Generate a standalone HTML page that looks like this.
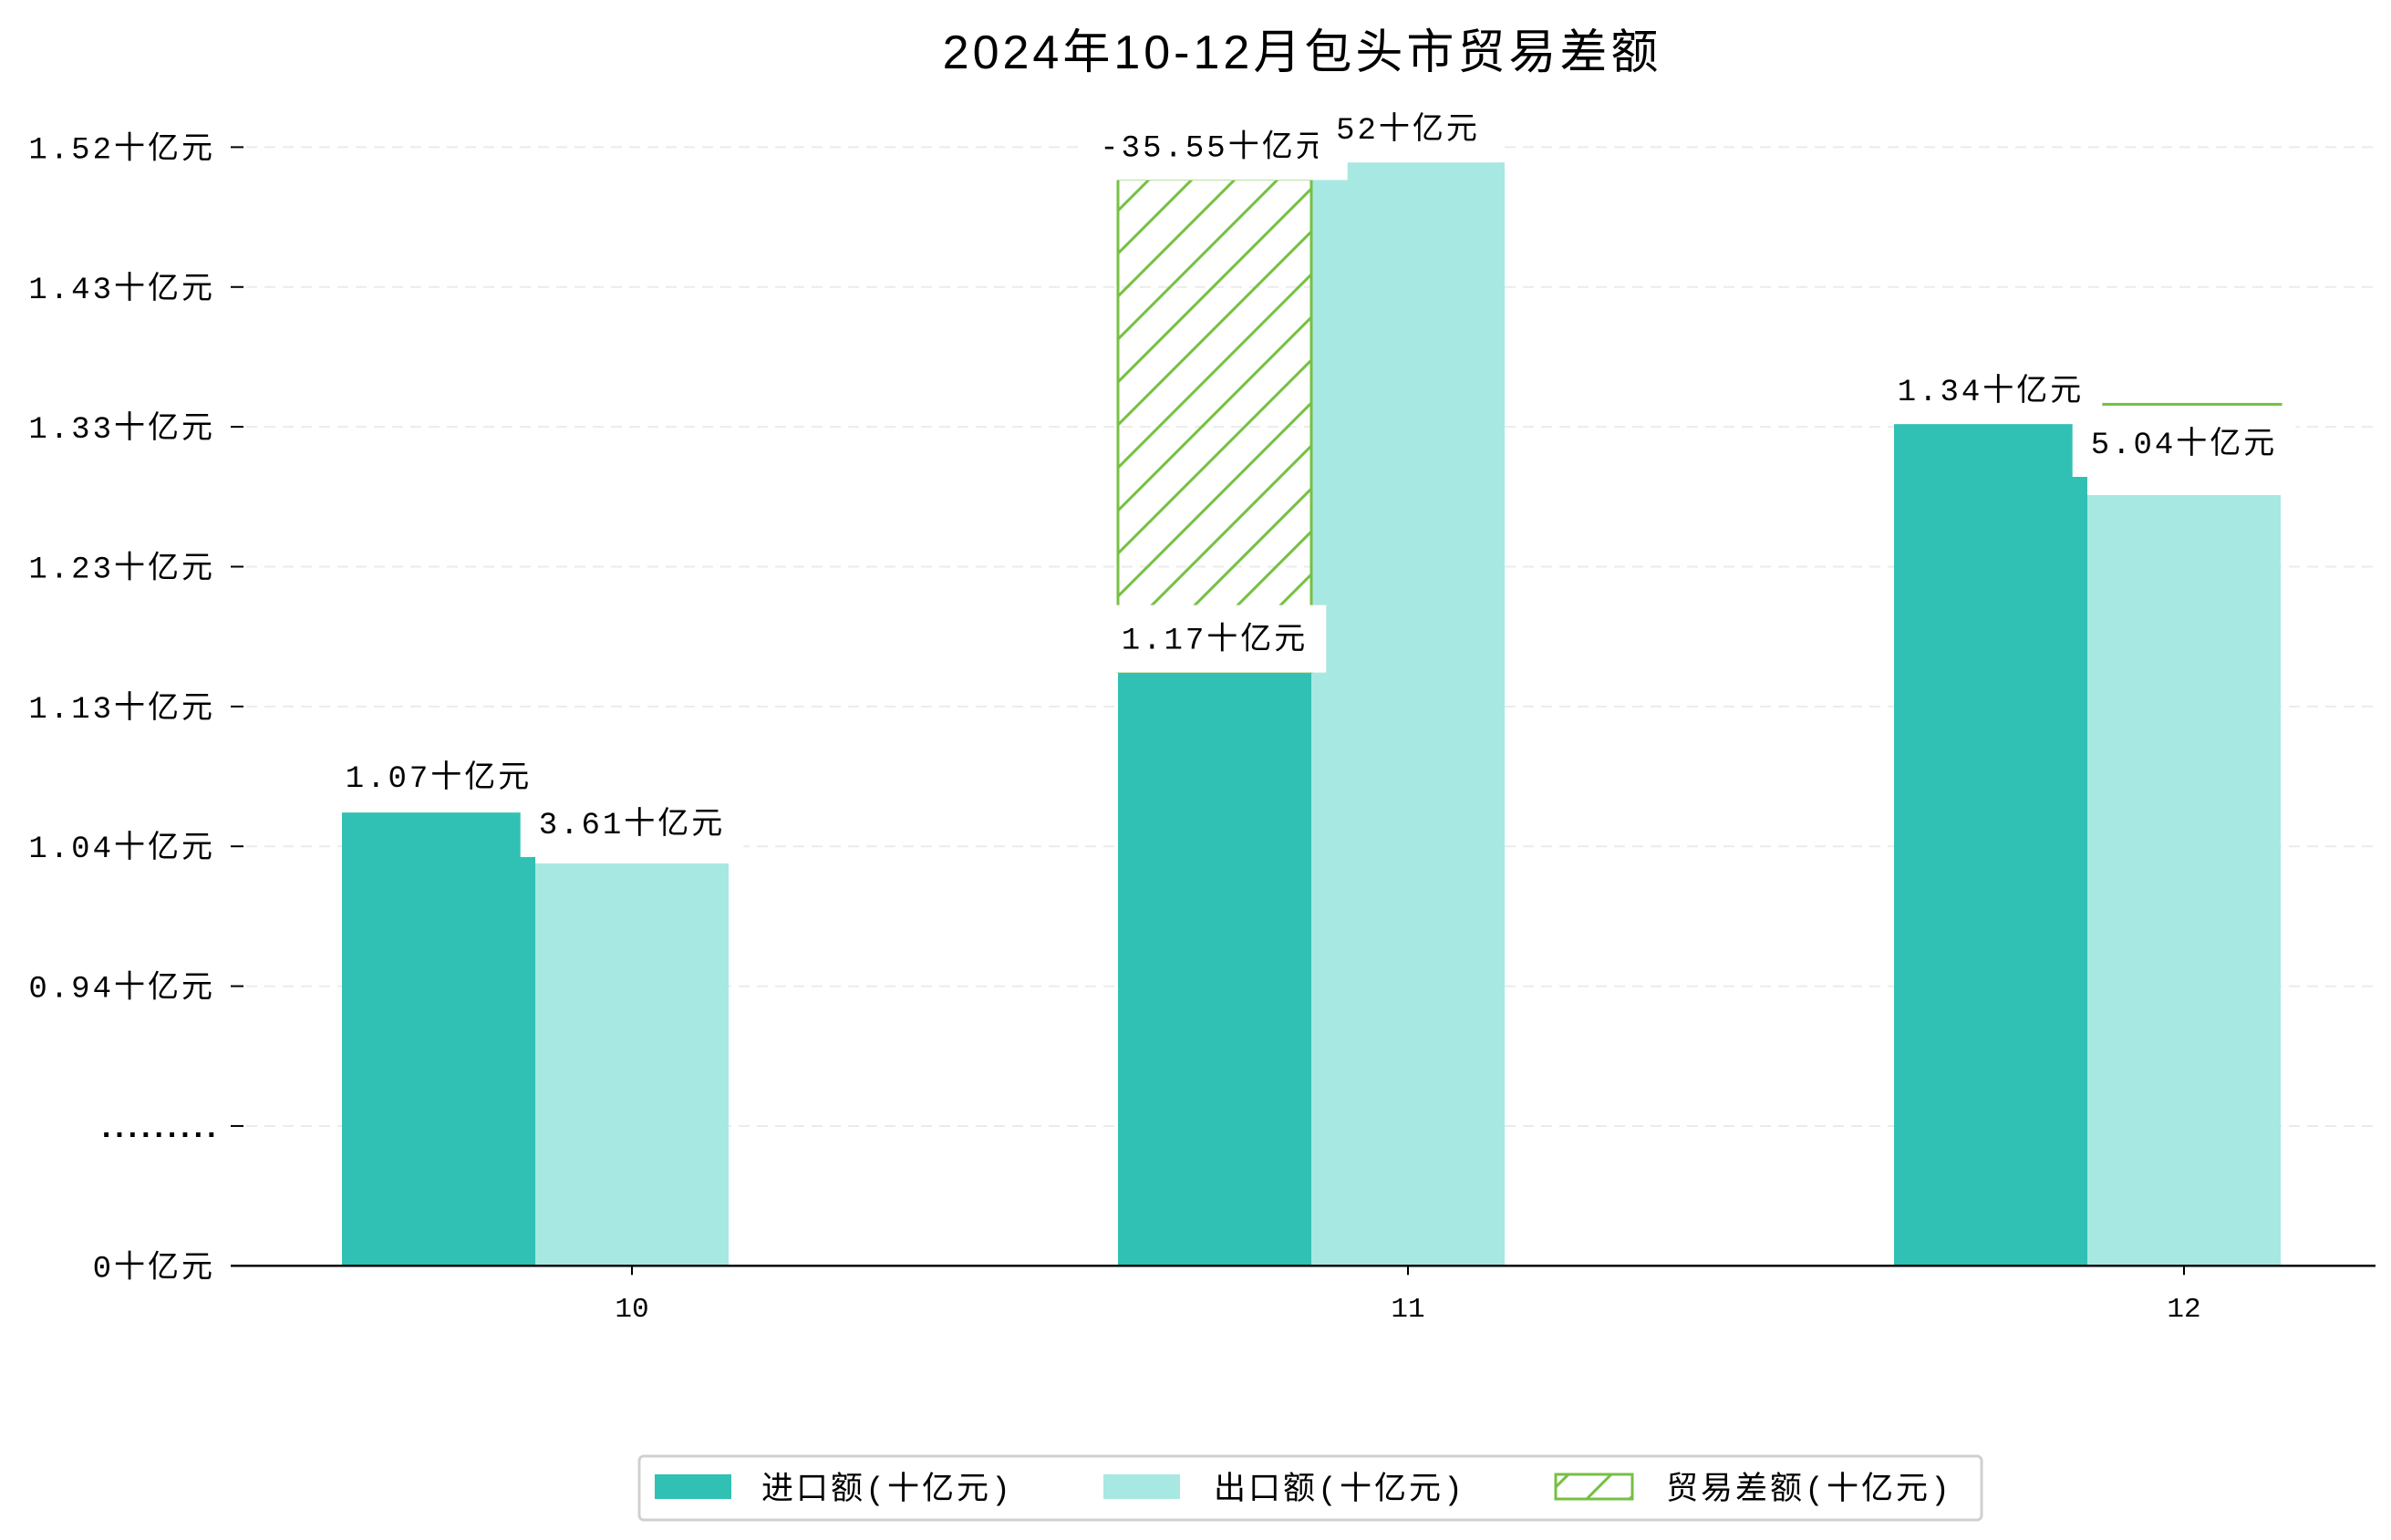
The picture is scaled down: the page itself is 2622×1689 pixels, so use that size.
<!DOCTYPE html>
<html><head><meta charset="utf-8"><style>
html,body{margin:0;padding:0;background:#fff;}
svg{display:block;font-family:"Liberation Mono","Noto Sans CJK SC",monospace;}
</style></head><body>
<svg id="chart" width="2622" height="1689" viewBox="0 0 2622 1689" xmlns="http://www.w3.org/2000/svg">
<defs>
<pattern id="hatch" patternUnits="userSpaceOnUse" width="47" height="47">
<path d="M-12,12 L12,-12 M0,47 L47,0 M35,59 L59,35" stroke="#76c043" stroke-width="3"/>
</pattern>
</defs>
<text x="1428" y="75" text-anchor="middle" font-size="52" letter-spacing="4" fill="#000" style="font-family:'Liberation Sans','Noto Sans CJK SC',sans-serif">2024年10-12月包头市贸易差额</text>
<g id="grid"></g><g id="bars"></g><g id="labels"></g><g id="axes"></g>
<g font-size="35" letter-spacing="3">
<rect x="701" y="1597" width="1472" height="70" rx="5" fill="#fff" stroke="#d0d0d0" stroke-width="3"/>
<rect x="718" y="1617" width="84" height="27" fill="#31c0b4"/>
<text x="835" y="1644">进口额(十亿元)</text>
<rect x="1210" y="1617" width="84" height="27" fill="#a8e8e2"/>
<text x="1331" y="1644">出口额(十亿元)</text>
<rect x="1706" y="1617" width="84" height="27" fill="url(#hatch)" stroke="#76c043" stroke-width="3"/>
<text x="1827" y="1644">贸易差额(十亿元)</text>
</g>
</svg>
<script>
const categories = ["10", "11", "12"];
const importValues = [1.062, 1.159, 1.330];
const exportValues = [1.027, 1.5095, 1.2805];
const balanceBase = [null, 1.159, 1.343];
const balanceTop = [null, 1.498, 1.343];
const importLabels = ["1.07十亿元", "1.17十亿元", "1.34十亿元"];
const exportLabels = ["3.61十亿元", "52十亿元", "5.04十亿元"];
const balanceLabels = [null, "-35.55十亿元", null];
const tickValues = [0.75, 0.84625, 0.9425, 1.03875, 1.135, 1.23125, 1.3275, 1.42375, 1.52];
const tickLabels = ["0十亿元", ".........", "0.94十亿元", "1.04十亿元", "1.13十亿元", "1.23十亿元", "1.33十亿元", "1.43十亿元", "1.52十亿元"];

const NS = "http://www.w3.org/2000/svg";
const X0 = 253, X1 = 2605, Y0 = 1388.3, Y1 = 161.4;
const yMin = 0.75, yMax = 1.52;
function y(v){ return Y0 - (v - yMin) / (yMax - yMin) * (Y0 - Y1); }
const groupCenters0 = 693, groupStep = 851;
function xc(i){ return groupCenters0 + i * groupStep; }
const barW = 212;
function mk(tag, attrs, parent){ const e = document.createElementNS(NS, tag); for (const k in attrs) e.setAttribute(k, attrs[k]); parent.appendChild(e); return e; }

const grid = document.getElementById('grid'), axes = document.getElementById('axes');
const bars = document.getElementById('bars'), labels = document.getElementById('labels');

tickValues.forEach((v, i) => {
  const g = mk('line', {x1: 270, x2: X1, y1: y(v), y2: y(v), stroke: '#ebebeb', 'stroke-width': 2, 'stroke-dasharray': '12,8'}, grid);
  
  
  const t = mk('line', {x1: 253, x2: 267, y1: y(v), y2: y(v), stroke: '#000', 'stroke-width': 2}, axes);
  
  
  const dots = tickLabels[i].indexOf('..') >= 0;
  const l = mk('text', {x: 236, y: y(v) + 12, 'text-anchor': 'end', 'font-size': 34, 'letter-spacing': dots ? -6 : 3, 'font-weight': dots ? 'bold' : 'normal'}, axes);
  l.textContent = tickLabels[i];
  
  
});
const xa = mk('line', {x1: X0, x2: X1, y1: Y0, y2: Y0, stroke: '#000', 'stroke-width': 2.5}, axes);



function labelBox(text, cx, cy, name){
  const r = mk('rect', {x: cx, y: cy - 36, width: 10, height: 74, fill: '#fff'}, labels);
  
  
  const t = mk('text', {x: cx, y: cy + 12, 'text-anchor': 'middle', 'font-size': 34, 'letter-spacing': 3}, labels);
  t.textContent = text;
  
  
  let w = 240;
  try { w = t.getComputedTextLength() + 40; } catch(e) {}
  r.setAttribute('x', cx - w / 2);
  r.setAttribute('width', w);
}

categories.forEach((c, i) => {
  const cx = xc(i);
  const bi = mk('rect', {x: cx - 1.5 * barW, y: y(importValues[i]), width: barW, height: Y0 - y(importValues[i]), fill: '#31c0b4'}, bars);
  
  
  const be = mk('rect', {x: cx - 0.5 * barW, y: y(exportValues[i]), width: barW, height: Y0 - y(exportValues[i]), fill: '#a8e8e2'}, bars);
  
  
  if (balanceBase[i] !== null) {
    const bx = (i === 1) ? cx - 1.5 * barW : cx - 0.5 * barW;
    const top = y(balanceTop[i]), bot = y(balanceBase[i]);
    const bb = mk('rect', {x: bx, y: top, width: barW, height: Math.max(bot - top, 0.01), fill: 'url(#hatch)', stroke: '#76c043', 'stroke-width': 3}, bars);
    
    
  }
  const xt = mk('line', {x1: cx, x2: cx, y1: Y0, y2: Y0 + 10, stroke: '#000', 'stroke-width': 2}, axes);
  
  
  const xl = mk('text', {x: cx, y: 1444, 'text-anchor': 'middle', 'font-size': 31}, axes);
  xl.textContent = c;
  
  
});

labelBox(importLabels[0], xc(0) - barW, y(importValues[0]) - 40, 'import-label-10');
labelBox(exportLabels[0], xc(0), y(exportValues[0]) - 45, 'export-label-10');
labelBox(balanceLabels[1], xc(1) - barW, y(balanceTop[1]) - 37, 'balance-label-11');
labelBox(exportLabels[1], xc(1), y(exportValues[1]) - 38, 'export-label-11');
labelBox(importLabels[1], xc(1) - barW, y(importValues[1]) - 37, 'import-label-11');
labelBox(importLabels[2], xc(2) - barW, y(importValues[2]) - 37, 'import-label-12');
labelBox(exportLabels[2], xc(2), y(exportValues[2]) - 58, 'export-label-12');
</script>
</body></html>
